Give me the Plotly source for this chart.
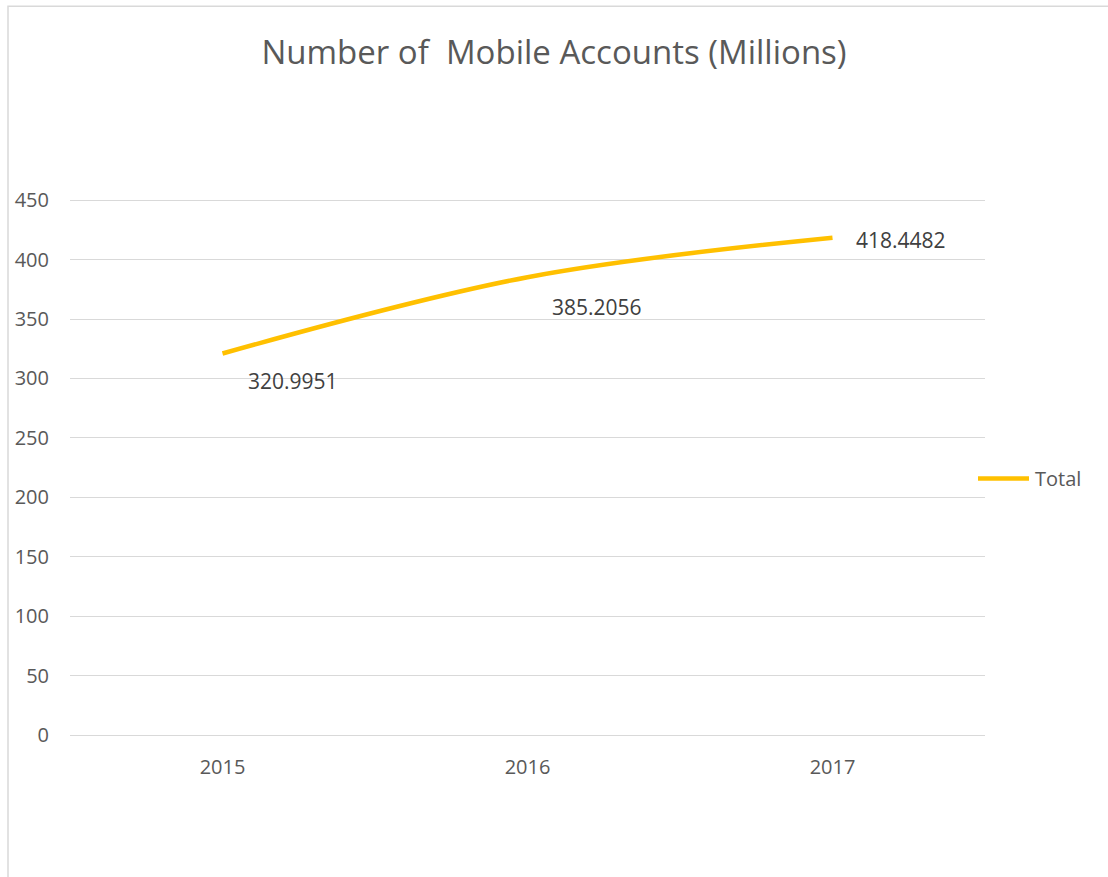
import plotly.graph_objects as go

# Mobile account totals by year (millions)
years = ["2015", "2016", "2017"]
totals = [320.9951, 385.2056, 418.4482]
series_name = "Total"
y_ticks = [0, 50, 100, 150, 200, 250, 300, 350, 400, 450]

FONT = "Open Sans"
TEXT_GREY = "#595959"
LABEL_GREY = "#404040"
GRID_GREY = "#D9D9D9"
LINE_GOLD = "#FFC000"

fig = go.Figure()
fig.add_trace(go.Scatter(
    x=years, y=totals, name=series_name, mode="lines",
    line=dict(color=LINE_GOLD, width=4.5, shape="spline", smoothing=1.0),
    showlegend=False,
))

# value labels next to each point (category index positions)
label_offsets = [(23, -27), (22, -30), (21, -2)]
for i, (v, (dx, dy)) in enumerate(zip(totals, label_offsets)):
    fig.add_annotation(
        x=i, y=v, xref="x", yref="y", text=str(v), showarrow=False,
        xanchor="left", yanchor="middle", xshift=dx, yshift=dy,
        font=dict(family=FONT, size=21, color=LABEL_GREY),
    )

# legend entry: line sample plus series name
leg_y = (735 - 479) / 535
fig.add_shape(
    type="line", xref="paper", yref="paper",
    x0=(978 - 70) / 915, x1=(1029 - 70) / 915, y0=leg_y, y1=leg_y,
    line=dict(color=LINE_GOLD, width=4.5),
)
fig.add_annotation(
    x=(1033 - 70) / 915, y=leg_y, xref="paper", yref="paper",
    text=series_name, showarrow=False, xanchor="left", yanchor="middle",
    font=dict(family=FONT, size=20, color=TEXT_GREY),
)

# chart frame
fig.add_shape(
    type="rect", xref="paper", yref="paper",
    x0=(8 - 70) / 915, x1=(1200 - 70) / 915,
    y0=(735 - 900) / 535, y1=(735 - 7.5) / 535,
    line=dict(color="#D9D9D9", width=1.5), fillcolor="rgba(0,0,0,0)", layer="below",
)

fig.update_layout(
    width=1108, height=877,
    margin=dict(l=70, r=123, t=199, b=142),
    paper_bgcolor="white", plot_bgcolor="white",
    showlegend=False,
    title=dict(
        text="Number of  Mobile Accounts (Millions)",
        x=0.5, xref="container", xanchor="center",
        y=(877 - 52) / 877, yref="container", yanchor="middle",
        font=dict(family=FONT, size=33, color=TEXT_GREY),
    ),
    font=dict(family=FONT, size=20, color=TEXT_GREY),
    xaxis=dict(
        type="category", range=[-0.5, 2.5],
        showgrid=False, showline=False, zeroline=False,
        ticks="", tickfont=dict(family=FONT, size=20, color=TEXT_GREY),
        ticklabelstandoff=18,
    ),
    yaxis=dict(
        range=[0, 451], tickvals=y_ticks,
        showgrid=True, gridcolor=GRID_GREY, gridwidth=1.3,
        zeroline=True, zerolinecolor=GRID_GREY, zerolinewidth=1.3,
        showline=False, ticks="",
        tickfont=dict(family=FONT, size=20, color=TEXT_GREY),
        ticklabelstandoff=20,
    ),
)

fig.write_html("out.html")
